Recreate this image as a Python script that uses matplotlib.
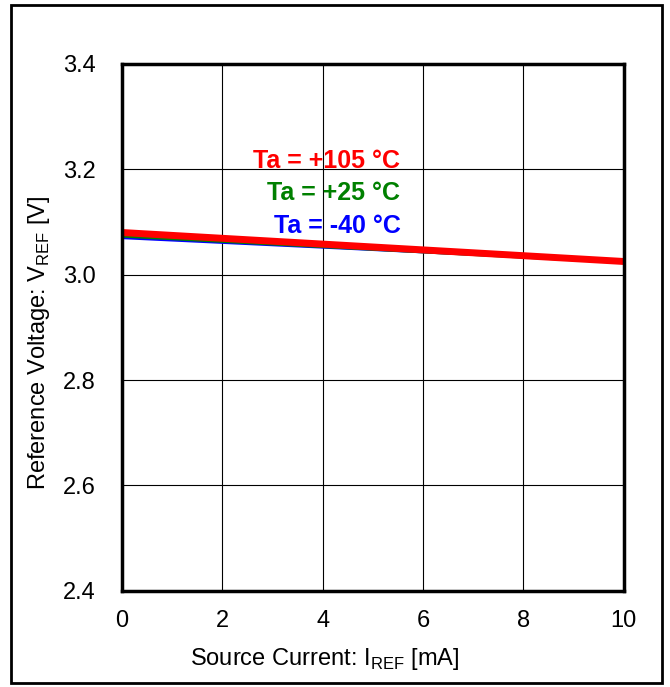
import numpy as np
import matplotlib.pyplot as plt
from matplotlib.patches import Rectangle

plt.rcParams['font.family'] = ['Liberation Sans', 'DejaVu Sans']
plt.rcParams['mathtext.fontset'] = 'custom'
plt.rcParams['mathtext.rm'] = 'Liberation Sans'

# source current [mA] and reference voltage [V] per ambient temperature
current = [0, 2, 4, 6, 8, 10]
v_m40 = [3.070, 3.061, 3.052, 3.043, 3.034, 3.025]
v_p25 = [3.075, 3.065, 3.055, 3.045, 3.035, 3.025]
v_p105 = [3.080, 3.069, 3.058, 3.047, 3.036, 3.025]

labels = ['Ta = +105 °C', 'Ta = +25 °C', 'Ta = -40 °C']
colors = ['#ff0000', '#008000', '#0000ff']

fig = plt.figure(figsize=(6.7, 6.87), dpi=100)
ax = fig.add_axes([0.182, 0.140, 0.749, 0.767])

ax.plot(current, v_m40, color=colors[2], lw=2)
ax.plot(current, v_p25, color=colors[1], lw=3.5)
ax.plot(current, v_p105, color=colors[0], lw=5)

ax.set_xlim(0, 10)
ax.set_ylim(2.4, 3.4)
ax.set_xticks(np.arange(0, 11, 2))
ax.set_yticks(np.arange(2.4, 3.41, 0.2))
ax.yaxis.set_major_formatter(plt.FormatStrFormatter('%.1f'))
ax.grid(True, color='black', lw=0.8)
ax.set_axisbelow(True)
ax.tick_params(axis='both', length=0, labelsize=17)
ax.tick_params(axis='y', pad=19)
ax.tick_params(axis='x', pad=14)
for s in ax.spines.values():
    s.set_linewidth(2.5)

ax.set_xlabel(r'Source Current: I$_{\mathregular{REF}}$ [mA]', fontsize=17)
ax.set_ylabel(r'Reference Voltage: V$_{\mathregular{REF}}$ [V]', fontsize=17)
ax.xaxis.set_label_coords(0.404, -0.105)
ax.yaxis.set_label_coords(-0.139, 0.47)

# temperature tags, right-aligned above the curves
for lab, c, yy in zip(labels, colors, [3.216, 3.155, 3.093]):
    ax.text(5.55, yy, lab, color=c, fontsize=18, fontweight='bold',
            ha='right', va='center')

# frame around the whole figure
fig.patches.append(Rectangle((11 / 670, 4 / 687), 651 / 670, 678 / 687,
                             transform=fig.transFigure, fill=False,
                             edgecolor='black', lw=2))

fig.savefig('out.png', dpi=100)
